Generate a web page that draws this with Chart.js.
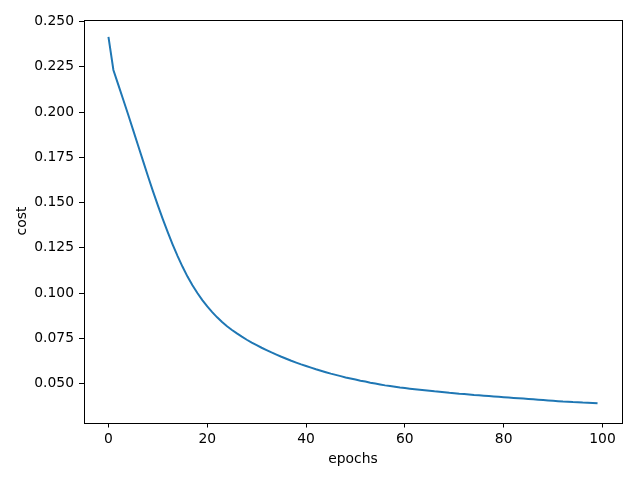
<!DOCTYPE html>
<html>
<head>
<meta charset="utf-8">
<script src="https://cdn.jsdelivr.net/npm/chart.js@4"></script>
<style>
  html, body { margin: 0; padding: 0; background: #fff; }
  canvas { display: block; }
</style>
</head>
<body>
<canvas id="cost-chart" width="640" height="480"></canvas>
<script>
// ── Data ──────────────────────────────────────
const cost = [
  0.2415, 0.2232, 0.2150, 0.2068, 0.1985, 0.1900, 0.1815, 0.1730, 0.1645, 0.1563,
  0.1484, 0.1408, 0.1336, 0.1268, 0.1204, 0.1145, 0.1091, 0.1043, 0.1000, 0.0961,
  0.0926, 0.0895, 0.0866, 0.0840, 0.0817, 0.0796, 0.0777, 0.0759, 0.0742, 0.0726,
  0.0712, 0.0698, 0.0685, 0.0672, 0.0660, 0.0648, 0.0637, 0.0626, 0.0616, 0.0606,
  0.0597, 0.0588, 0.0579, 0.0571, 0.0563, 0.0555, 0.0548, 0.0541, 0.0534, 0.0528,
  0.0522, 0.0516, 0.0511, 0.0505, 0.0500, 0.0495, 0.0490, 0.0486, 0.0482, 0.0478,
  0.0475, 0.0472, 0.0469, 0.0466, 0.0463, 0.0460, 0.0457, 0.0455, 0.0452, 0.0449,
  0.0447, 0.0444, 0.0442, 0.0440, 0.0437, 0.0435, 0.0433, 0.0431, 0.0429, 0.0427,
  0.0425, 0.0423, 0.0421, 0.0419, 0.0417, 0.0415, 0.0413, 0.0411, 0.0409, 0.0407,
  0.0405, 0.0403, 0.0401, 0.0400, 0.0398, 0.0397, 0.0395, 0.0394, 0.0393, 0.0391
];
const epochs = cost.map((_, i) => i);
const xTicks = [0, 20, 40, 60, 80, 100];
const yTicks = [0.050, 0.075, 0.100, 0.125, 0.150, 0.175, 0.200, 0.225, 0.250];

const FONT = { family: '"DejaVu Sans", sans-serif', size: 13.89 };

// ── Frame (all four spines, like matplotlib) ──
const framePlugin = {
  id: 'frame',
  afterDraw(chart) {
    const { ctx, chartArea: a } = chart;
    const l = Math.round(a.left), t = Math.round(a.top);
    const r = Math.round(a.right), b = Math.round(a.bottom);
    ctx.save();
    ctx.strokeStyle = '#000';
    ctx.lineWidth = 1;
    ctx.strokeRect(l + 0.5, t + 0.5, r - l, b - t);
    ctx.restore();
  }
};

// ── Chart ─────────────────────────────────────
new Chart(document.getElementById('cost-chart'), {
  type: 'line',
  data: {
    datasets: [{
      data: epochs.map(i => ({ x: i, y: cost[i] })),
      borderColor: '#1f77b4',
      borderWidth: 2,
      pointRadius: 0,
      tension: 0,
      fill: false
    }]
  },
  options: {
    responsive: false,
    animation: false,
    devicePixelRatio: 1,
    layout: { padding: { top: 19.5, right: 18, left: 0, bottom: 0 } },
    plugins: { legend: { display: false }, tooltip: { enabled: false } },
    scales: {
      x: {
        type: 'linear',
        min: -4.95,
        max: 103.95,
        afterBuildTicks: s => { s.ticks = xTicks.map(v => ({ value: v })); },
        afterFit: s => { s.height = 57.5; },
        border: { display: false },
        grid: { display: true, drawOnChartArea: false, drawTicks: true, tickLength: 5, color: '#000', lineWidth: 1 },
        ticks: { color: '#000', font: FONT, padding: 4, maxRotation: 0, callback: v => String(v) },
        title: { display: true, text: 'epochs', color: '#000', font: FONT, padding: { top: 0, bottom: 12 } }
      },
      y: {
        type: 'linear',
        min: 0.0285,
        max: 0.2511,
        afterBuildTicks: s => { s.ticks = yTicks.map(v => ({ value: v })); },
        afterFit: s => { s.width = 84; },
        border: { display: false },
        grid: { display: true, drawOnChartArea: false, drawTicks: true, tickLength: 5, color: '#000', lineWidth: 1 },
        ticks: { color: '#000', font: FONT, padding: 5, callback: v => Number(v).toFixed(3) },
        title: { display: true, text: 'cost', color: '#000', font: FONT, padding: { top: 14, bottom: 0 } }
      }
    }
  },
  plugins: [framePlugin]
});
</script>
</body>
</html>
